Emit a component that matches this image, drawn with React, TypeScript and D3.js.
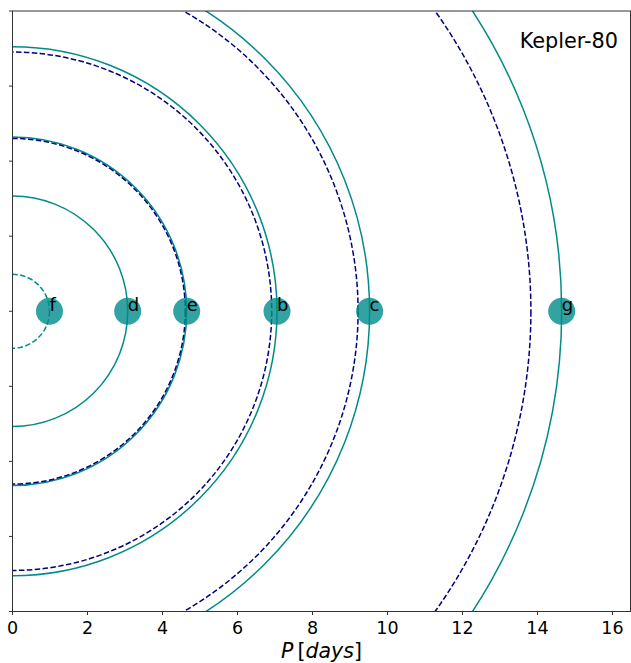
import React from "react";
import * as d3 from "d3";

// Orbital periods (days) of the Kepler-80 planets
const planetNames = ["f", "d", "e", "b", "c", "g"];
const planetPeriods = [0.986, 3.072, 4.645, 7.054, 9.523, 14.645];

// Orbits drawn as solid rings (d, e, b, c, g) and the dashed ring for f
const solidOrbits = [3.072, 4.645, 7.054, 9.523, 14.645];
const dashedInner = [0.986];

// Resonant-chain periods (3:2, 3:2, 4:3, 3:2 from planet d)
const resonanceOrbits = [4.608, 6.912, 9.216, 13.824];

const xTicks = [0, 2, 4, 6, 8, 10, 12, 14, 16];
const yTicks = [-8, -6, -4, -2, 0, 2, 4, 6, 8];

const title = "Kepler-80";

const W = 631;
const H = 663;
const left = 12.5;
const right = 630.5;
const top = 11;
const bottom = 611.5;

const TEAL = "#008b8b";
const NAVY = "#000080";
const FONT = "'DejaVu Sans', sans-serif";

export default function App() {
  const x = d3.scaleLinear().domain([0, (right - left) / 37.5]).range([left, right]);
  const y = d3.scaleLinear().domain([-8, 8]).range([bottom, top]);
  const rpx = (p: number) => x(p) - x(0);
  const cx = x(0);
  const cy = y(0);

  return (
    <svg
      width={W}
      height={H}
      style={{ position: "absolute", left: 0, top: 0, background: "#fff" }}
    >
      <defs>
        <clipPath id="plot-area">
          <rect x={left} y={top} width={right - left} height={bottom - top} />
        </clipPath>
      </defs>

      <g clipPath="url(#plot-area)">
        {solidOrbits.map((p, i) => (
          <circle key={"s" + i} cx={cx} cy={cy} r={rpx(p)} fill="none" stroke={TEAL} strokeWidth={1.5} />
        ))}
        {dashedInner.map((p, i) => (
          <circle
            key={"f" + i}
            cx={cx}
            cy={cy}
            r={rpx(p)}
            fill="none"
            stroke={TEAL}
            strokeWidth={1.5}
            strokeDasharray="5.5,2.4"
          />
        ))}
        {resonanceOrbits.map((p, i) => (
          <circle
            key={"r" + i}
            cx={cx}
            cy={cy}
            r={rpx(p)}
            fill="none"
            stroke={NAVY}
            strokeWidth={1.5}
            strokeDasharray="5.5,2.4"
          />
        ))}
        {planetPeriods.map((p, i) => (
          <circle key={"p" + i} cx={x(p)} cy={cy} r={13.5} fill={TEAL} fillOpacity={0.8} />
        ))}
      </g>

      {planetPeriods.map((p, i) => (
        <text key={"l" + i} x={x(p)} y={cy} fontFamily={FONT} fontSize={18} fill="#000">
          {planetNames[i]}
        </text>
      ))}

      {/* frame */}
      <rect x={left} y={top} width={right - left} height={bottom - top} fill="none" stroke="#333" strokeWidth={1} />

      {/* x axis */}
      {xTicks.map((t) => (
        <g key={"xt" + t}>
          <line x1={x(t)} x2={x(t)} y1={bottom} y2={bottom + 3.5} stroke="#333" strokeWidth={1} />
          <text
            x={x(t)}
            y={bottom + 22.5}
            textAnchor="middle"
            fontFamily={FONT}
            fontSize={17.5}
            fill="#000"
          >
            {t}
          </text>
        </g>
      ))}

      {/* y axis ticks (unlabelled) */}
      {yTicks.map((t) => (
        <line key={"yt" + t} x1={left - 3.5} x2={left} y1={y(t)} y2={y(t)} stroke="#333" strokeWidth={1} />
      ))}

      <text x={(left + right) / 2} y={658} textAnchor="middle" fontFamily={FONT} fontSize={20.5} fill="#000">
        <tspan fontStyle="italic">P</tspan>
        <tspan dx={4}>[</tspan>
        <tspan fontStyle="italic">days</tspan>
        <tspan>]</tspan>
      </text>

      <text x={618} y={48} textAnchor="end" fontFamily={FONT} fontSize={20.8} fill="#000">
        {title}
      </text>
    </svg>
  );
}
